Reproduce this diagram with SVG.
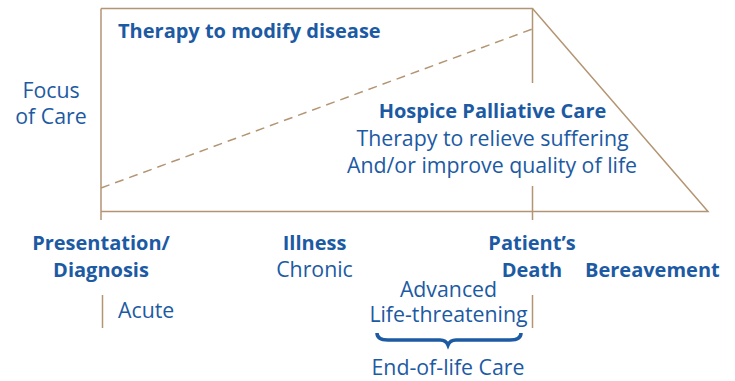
<svg xmlns="http://www.w3.org/2000/svg" width="735" height="381" viewBox="0 0 735 381">
<style>
.ln{fill:none;stroke:#b39573;stroke-width:1.5}
.dash{fill:none;stroke:#b39573;stroke-width:1.5;stroke-dasharray:9 6}
text{font-family:"Open Sans","Noto Sans",sans-serif;fill:#1c5aa3;font-size:21.3px}
.b{font-weight:bold;font-size:20px}
.m{text-anchor:middle}
</style>
<rect width="735" height="381" fill="#fff"/>
<g id="connectors">
<path class="ln" d="M101,8.5 H532.5 L708,211.5 H101"/>
<path class="ln" d="M101,8.5 V220"/>
<path class="ln" d="M532.5,8.5 V83 M532.5,186 V220"/>
<path class="ln" d="M532.5,295 V328"/>
<path class="ln" d="M102.5,295 V328"/>
<path class="dash" d="M101,188 L532.5,29"/>
<path d="M377,333 Q377,340 388,340 H440 Q446,340 448,345 Q450,340 456,340 H510 Q521,340 521,333" fill="none" stroke="#1c5aa3" stroke-width="3.5"/>
</g>
<g id="title"><text class="b" x="118" y="38">Therapy to modify disease</text></g>
<g id="focus"><text class="m" x="51" y="98">Focus</text><text class="m" x="51" y="124">of Care</text></g>
<g id="hospice">
<text class="b m" x="492.5" y="118">Hospice Palliative Care</text>
<text class="m" x="492.5" y="146">Therapy to relieve suffering</text>
<text class="m" x="492" y="173">And/or improve quality of life</text>
</g>
<g id="presentation"><text class="b m" x="101" y="250">Presentation/</text><text class="b m" x="101" y="277">Diagnosis</text></g>
<g id="acute"><text x="118" y="318">Acute</text></g>
<g id="illness"><text class="b m" x="314.5" y="250">Illness</text><text class="m" x="314.5" y="277">Chronic</text></g>
<g id="death"><text class="b m" x="532" y="250">Patient’s</text><text class="b m" x="532" y="277">Death</text></g>
<g id="bereavement"><text class="b" x="585" y="277">Bereavement</text></g>
<g id="advanced"><text class="m" x="448.5" y="297">Advanced</text><text class="m" x="448.5" y="322">Life-threatening</text></g>
<g id="eol"><text class="m" x="448" y="375">End-of-life Care</text></g>
</svg>
